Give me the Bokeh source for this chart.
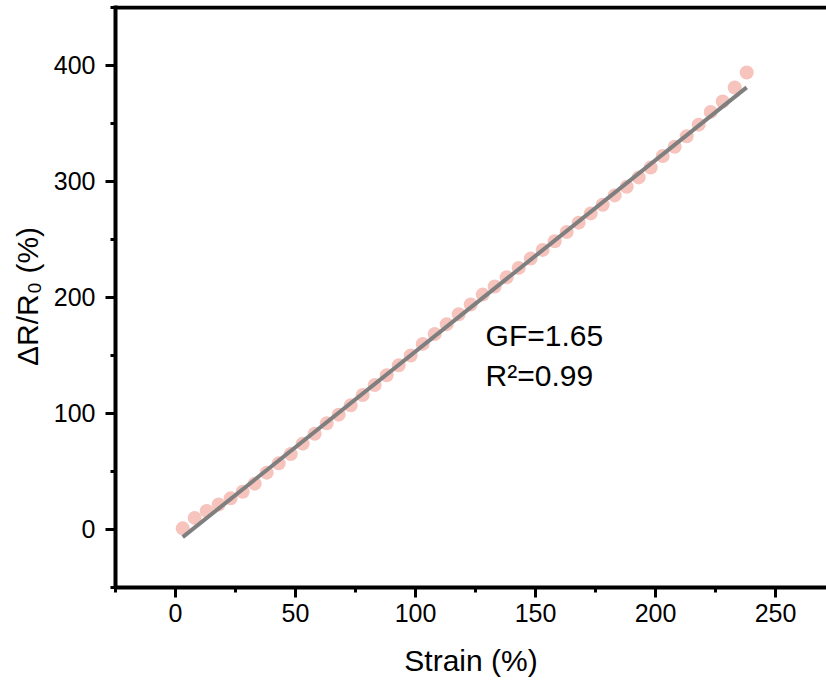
from bokeh.plotting import figure
from bokeh.models import Range1d, SingleIntervalTicker, Label, Span
from bokeh.embed import file_html
from bokeh.resources import INLINE

# ---- data ----
strain = [3, 8, 13, 18, 23, 28, 33, 38, 43, 48,
          53, 58, 63, 68, 73, 78, 83, 88, 93, 98,
          103, 108, 113, 118, 123, 128, 133, 138, 143, 148,
          153, 158, 163, 168, 173, 178, 183, 188, 193, 198,
          203, 208, 213, 218, 223, 228, 233, 238]
dR = [1, 10, 16, 21.5, 27, 32.5, 39.5, 49, 57, 65,
      74, 82.5, 91.5, 99, 107, 116, 124.5, 133, 141.5, 150,
      160, 168.5, 177, 185.5, 194, 202.5, 209.5, 217.5, 225.5, 233.5,
      241, 248.5, 256.5, 264.5, 272.5, 280, 288, 295.5, 303.5, 312,
      322, 330, 339, 349, 360, 369, 381, 394]
fit_x = [3, 238]
fit_y = [-6.6, 381.1]
gf_text = "GF=1.65"
r2_text = "R\u00b2=0.99"

FONT = "Liberation Sans"

p = figure(width=826, height=684, output_backend="svg", toolbar_location=None,
           x_range=Range1d(-25, 271.25), y_range=Range1d(-50, 451.7),
           min_border_left=115, min_border_right=0, min_border_top=5,
           min_border_bottom=97)
p.outline_line_color = None
p.xgrid.visible = False
p.ygrid.visible = False
p.background_fill_color = "white"

p.scatter(strain, dR, size=14, fill_color="#F6C3BD", line_color=None)
p.line(fit_x, fit_y, line_color="#7f7f7f", line_width=4)

for ax, interval in ((p.xaxis[0], 50), (p.yaxis[0], 100)):
    ax.ticker = SingleIntervalTicker(interval=interval, num_minor_ticks=2)
    ax.axis_line_width = 4
    ax.axis_line_color = "black"
    ax.major_tick_line_width = 3
    ax.minor_tick_line_width = 3
    ax.major_tick_in = 0
    ax.major_tick_out = 10
    ax.minor_tick_in = 0
    ax.minor_tick_out = 5
    ax.major_label_text_font = FONT
    ax.major_label_text_font_size = "25px"
    ax.major_label_text_color = "black"
    ax.axis_label_text_font = FONT
    ax.axis_label_text_font_size = "30px"
    ax.axis_label_text_font_style = "normal"
    ax.axis_label_text_color = "black"

p.xaxis.axis_label = "Strain (%)"
p.yaxis.axis_label = "\u0394R/R\u2080 (%)"
p.xaxis.major_label_standoff = 6
p.xaxis.axis_label_standoff = 19
p.yaxis.major_label_standoff = 10
p.yaxis.axis_label_standoff = 7

p.add_layout(Span(location=450, dimension="width", line_color="black", line_width=4))

p.add_layout(Label(x=129.2, y=167.0, text=gf_text, text_font=FONT, text_color="black",
                   text_font_size="30px", text_baseline="alphabetic"))
p.add_layout(Label(x=129.2, y=132.5, text=r2_text, text_font=FONT, text_color="black",
                   text_font_size="30px", text_baseline="alphabetic"))

open("out.html", "w").write(file_html(p, INLINE))
